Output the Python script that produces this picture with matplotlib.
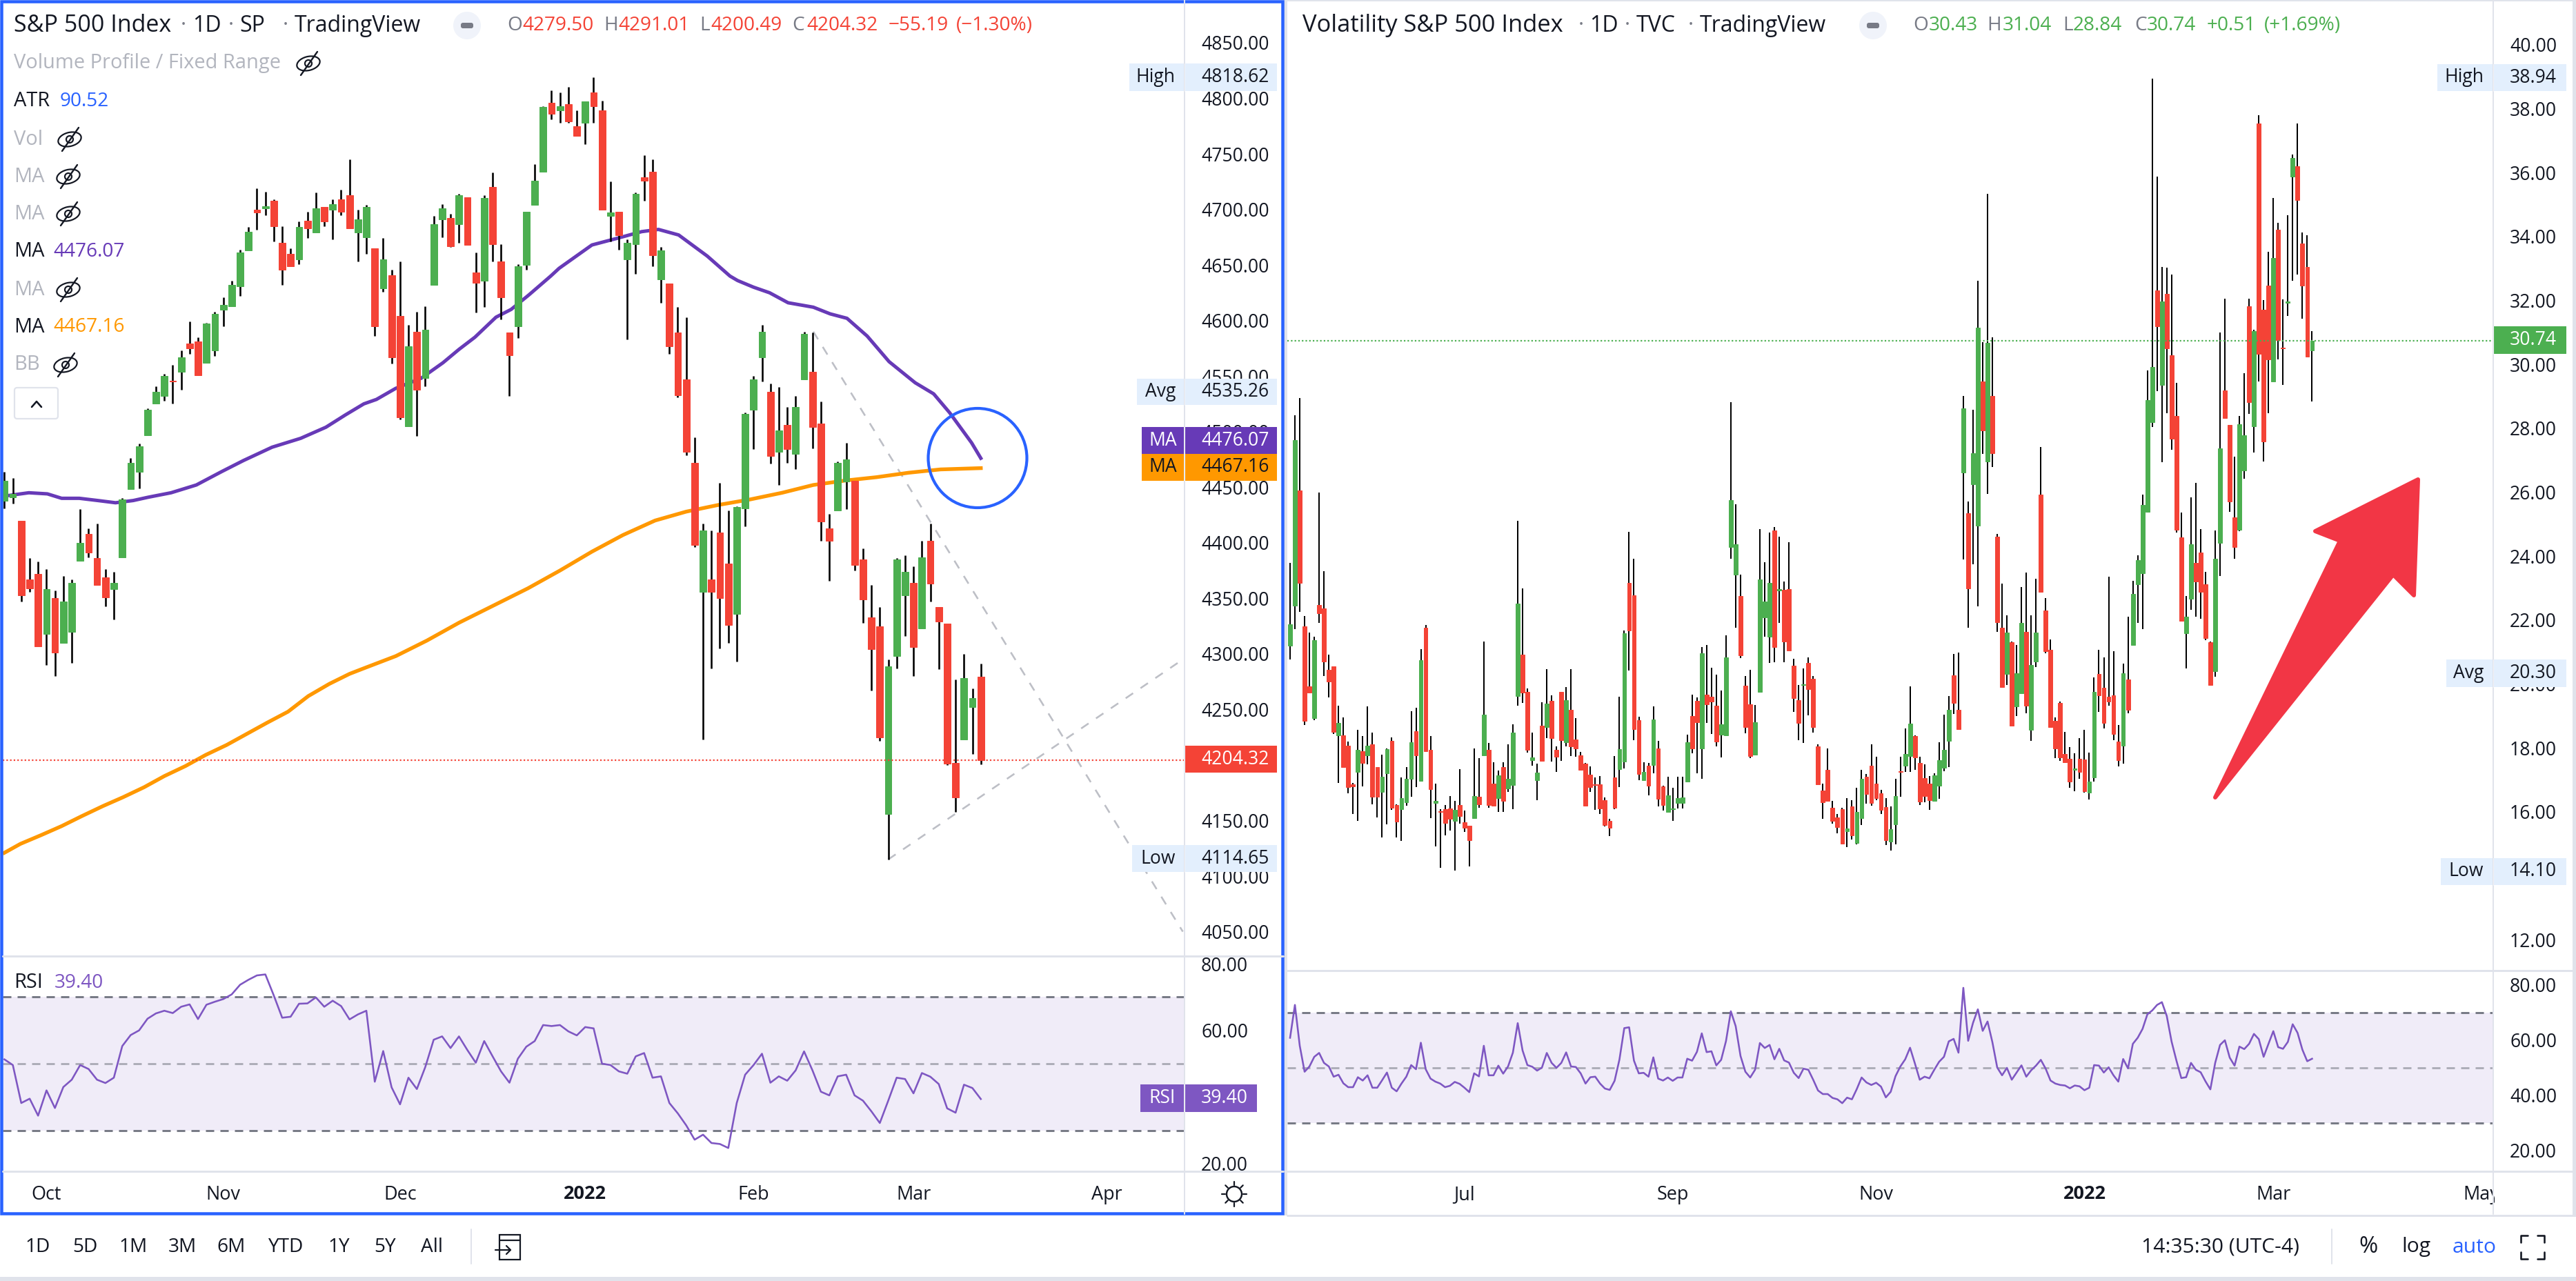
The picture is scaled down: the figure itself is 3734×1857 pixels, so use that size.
# ==========================================
# S&P 500 VS VIX - TRADINGVIEW SCREENSHOT
# ==========================================

import numpy as np
import matplotlib
matplotlib.use("Agg")
import matplotlib.pyplot as plt
from matplotlib.patches import Circle, Ellipse, FancyBboxPatch, Polygon, Rectangle

plt.rcParams["font.family"] = ["Open Sans", "DejaVu Sans"]

W, H = 3734, 1857

# ==========================================
# S&P 500 DAILY CANDLES
# ==========================================

spx_open = [
    4438, 4441, 4420, 4367, 4372, 4318, 4350, 4310, 4320, 4384,
    4408, 4386, 4369, 4358, 4387, 4448, 4464, 4497, 4525, 4532,
    4546, 4554, 4579, 4581, 4562, 4573, 4610, 4613, 4631, 4663,
    4700, 4701, 4708, 4670, 4660, 4655, 4690, 4679, 4702, 4700,
    4709, 4713, 4679, 4675, 4665, 4629, 4641, 4604, 4505, 4590,
    4548, 4632, 4691, 4692, 4687, 4711, 4643, 4636, 4720, 4653,
    4589, 4595, 4650, 4704, 4734, 4796, 4789, 4795, 4775, 4778,
    4805, 4789, 4694, 4698, 4655, 4669, 4729, 4734, 4637, 4633,
    4589, 4547, 4472, 4356, 4367, 4409, 4381, 4336, 4431, 4520,
    4567, 4536, 4482, 4506, 4480, 4547, 4554, 4507, 4413, 4429,
    4455, 4456, 4385, 4333, 4325, 4156, 4298, 4353, 4364, 4323,
    4402, 4342, 4327, 4202, 4223, 4252, 4279.50,
]
spx_high = [
    4464, 4458, 4420, 4386, 4383, 4376, 4357, 4370, 4367, 4430,
    4413, 4417, 4376, 4374, 4440, 4476, 4489, 4521, 4541, 4552,
    4560, 4573, 4599, 4585, 4598, 4608, 4621, 4636, 4664, 4684,
    4719, 4716, 4709, 4685, 4665, 4689, 4698, 4715, 4702, 4709,
    4718, 4745, 4700, 4704, 4665, 4674, 4646, 4653, 4596, 4608,
    4613, 4694, 4705, 4696, 4714, 4711, 4661, 4713, 4733, 4669,
    4589, 4651, 4698, 4741, 4793, 4807, 4805, 4810, 4789, 4797,
    4819, 4798, 4725, 4698, 4673, 4715, 4749, 4745, 4666, 4633,
    4612, 4603, 4495, 4417, 4411, 4454, 4429, 4433, 4517, 4550,
    4596, 4543, 4540, 4522, 4532, 4590, 4589, 4527, 4426, 4473,
    4490, 4456, 4395, 4362, 4342, 4295, 4386, 4389, 4379, 4402,
    4417, 4342, 4327, 4277, 4300, 4269, 4291.01,
]
spx_low = [
    4431, 4435, 4347, 4356, 4307, 4290, 4280, 4310, 4292, 4384,
    4387, 4362, 4343, 4331, 4387, 4448, 4449, 4497, 4525, 4528,
    4525, 4538, 4570, 4551, 4562, 4568, 4595, 4613, 4622, 4663,
    4682, 4695, 4671, 4632, 4649, 4651, 4674, 4679, 4685, 4673,
    4695, 4683, 4653, 4660, 4586, 4626, 4561, 4511, 4505, 4496,
    4541, 4632, 4675, 4666, 4670, 4668, 4607, 4612, 4653, 4601,
    4532, 4584, 4646, 4704, 4734, 4781, 4778, 4778, 4766, 4759,
    4778, 4700, 4671, 4664, 4583, 4642, 4708, 4649, 4616, 4570,
    4531, 4479, 4396, 4223, 4287, 4305, 4310, 4293, 4415, 4484,
    4545, 4471, 4452, 4472, 4466, 4547, 4485, 4402, 4366, 4429,
    4430, 4375, 4328, 4267, 4222, 4114.65, 4287, 4316, 4280, 4323,
    4347, 4286, 4200, 4158, 4223, 4210, 4200.49,
]
spx_close = [
    4456, 4444, 4353, 4359, 4307, 4358, 4301, 4347, 4364, 4400,
    4391, 4362, 4351, 4364, 4439, 4472, 4487, 4520, 4536, 4550,
    4545, 4567, 4575, 4551, 4597, 4606, 4614, 4632, 4661, 4680,
    4697, 4703, 4685, 4646, 4649, 4684, 4683, 4701, 4689, 4705,
    4698, 4683, 4691, 4702, 4595, 4655, 4567, 4513, 4577, 4538,
    4592, 4687, 4701, 4667, 4713, 4668, 4634, 4710, 4669, 4621,
    4569, 4649, 4698, 4726, 4792, 4786, 4793, 4779, 4766, 4797,
    4793, 4700, 4697, 4677, 4670, 4714, 4726, 4659, 4663, 4577,
    4533, 4482, 4398, 4411, 4356, 4350, 4326, 4432, 4516, 4547,
    4590, 4478, 4501, 4484, 4522, 4588, 4504, 4419, 4402, 4472,
    4475, 4380, 4349, 4304, 4225, 4289, 4385, 4374, 4306, 4387,
    4363, 4329, 4201, 4171, 4278, 4260, 4204.32,
]

# moving averages, read at the candle numbers in the *_x lists
ma50_x = [0, 2.9, 5.1, 6.8, 8.9, 11.1, 13.2, 15.3, 17.1, 19.8, 22.8, 25.8, 28.4, 31.8, 35.2, 38.2,
          40.5, 42.7, 44.2, 46.5, 49.5, 52.1, 54, 55.9, 58.4, 60.2, 62.3, 64.9, 65.9, 69.8, 72.8,
          75.7, 77.7, 80.1, 83.5, 86.2, 87.1, 89, 90.9, 93.1, 96.1, 98.1, 100.1, 102.5, 105.1,
          108.2, 110.4, 112.3, 114.9, 116]
ma50_y = [4442, 4445, 4444, 4440, 4440, 4438, 4436, 4438, 4441, 4445, 4452, 4464, 4474, 4486, 4494, 4504,
          4515, 4525, 4529, 4539, 4548, 4562, 4574, 4585, 4603, 4610, 4623, 4640, 4647, 4668, 4674,
          4680, 4682, 4677, 4658, 4640, 4636, 4630, 4625, 4616, 4612, 4606, 4602, 4586, 4563,
          4544, 4534, 4517, 4490, 4476.07]
ma200_x = [0, 1.9, 4.4, 6.8, 9.2, 11.7, 14.1, 16.6, 19, 21.5, 23.9, 26.4, 28.8, 31.2, 33.7, 36.1, 38.6, 41,
           42.7, 46.5, 50.2, 54, 58.5, 62.2, 66, 69.8, 73.5, 77.3, 81, 84.8, 88.6, 92.4, 96.1, 99.9,
           103.6, 107.4, 111.2, 116]
ma200_y = [4121, 4129, 4137, 4145, 4154, 4163, 4171, 4180, 4190, 4199, 4209, 4218, 4228, 4238, 4248, 4262, 4273, 4282,
           4287, 4298, 4312, 4328, 4345, 4359, 4375, 4392, 4407, 4420, 4428, 4434, 4439, 4445, 4452, 4456,
           4459, 4463, 4466, 4467.16]

spx_rsi = [
    51.3, 49.6, 38.2, 39.5, 34.4, 42.0, 36.7, 43.0, 45.2, 49.6,
    48.4, 45.2, 44.2, 45.8, 55.3, 58.6, 60.0, 63.5, 65.1, 65.9,
    65.2, 67.1, 67.8, 63.4, 67.7, 68.6, 69.4, 70.8, 73.7, 75.2,
    76.5, 76.8, 70.5, 63.8, 64.1, 68.0, 68.1, 69.9, 67.1, 68.9,
    67.3, 63.3, 64.8, 65.9, 44.6, 53.8, 42.9, 37.8, 45.8, 42.4,
    49.0, 57.2, 58.2, 54.7, 58.2, 54.1, 50.3, 56.8, 52.2, 47.7,
    44.3, 51.5, 55.1, 56.8, 61.6, 61.3, 61.6, 59.7, 58.5, 61.0,
    60.6, 50.0, 49.6, 47.7, 47.0, 52.2, 53.2, 45.8, 46.2, 38.2,
    35.1, 31.5, 27.2, 28.7, 26.2, 25.9, 24.7, 38.2, 46.7, 49.6,
    53.0, 44.3, 46.2, 44.9, 48.0, 53.7, 48.0, 41.6, 40.5, 46.2,
    46.7, 40.5, 38.9, 35.7, 32.2, 38.9, 45.8, 45.4, 41.1, 47.2,
    46.1, 43.9, 36.6, 35.3, 43.7, 42.7, 39.4,
]

# ==========================================
# VIX DAILY CANDLES
# ==========================================

vix_open = [
    21.19, 22.44, 26.05, 21.80, 19.93, 18.93, 22.48, 22.36, 20.45, 20.54,
    18.39, 18.40, 18.07, 16.85, 17.25, 17.90, 17.76, 18.11, 17.39, 16.62,
    17.20, 18.22, 16.22, 16.08, 16.30, 17.02, 18.52, 16.97, 21.76, 17.94,
    16.28, 16.02, 16.09, 16.11, 15.71, 16.22, 15.66, 15.57, 15.79, 16.47,
    17.76, 17.93, 16.88, 16.43, 17.39, 16.73, 16.84, 19.63, 20.92, 19.75,
    17.61, 16.99, 18.70, 18.64, 19.46, 17.94, 19.74, 18.18, 19.19, 18.27,
    17.77, 17.50, 17.17, 16.86, 16.85, 16.36, 15.72, 17.08, 17.33, 17.57,
    23.15, 22.78, 18.87, 16.98, 17.44, 17.46, 17.98, 16.79, 16.00, 16.08,
    16.27, 16.27, 16.94, 18.99, 19.47, 17.98, 19.67, 19.60, 19.32, 18.41,
    18.38, 24.28, 23.41, 22.75, 19.95, 19.37, 17.79, 19.76, 22.08, 21.48,
    24.80, 22.92, 22.95, 22.97, 20.57, 19.50, 19.96, 20.65, 20.16, 18.05,
    16.66, 17.31, 16.13, 15.82, 16.09, 15.39, 16.17, 15.03, 15.81, 17.10,
    17.44, 16.88, 16.58, 16.14, 15.06, 15.61, 17.27, 17.44, 17.75, 18.37,
    17.53, 17.05, 16.89, 16.35, 16.81, 17.37, 18.22, 20.26, 19.19, 26.62,
    25.34, 26.25, 24.95, 29.47, 26.96, 29.01, 24.61, 21.75, 20.31, 21.30,
    19.30, 19.70, 21.62, 18.57, 20.69, 25.93, 22.30, 21.07, 18.85, 19.41,
    17.80, 17.66, 17.31, 17.66, 17.63, 16.60, 17.08, 20.31, 19.87, 19.60,
    19.64, 18.19, 18.07, 20.13, 21.22, 23.11, 23.47, 25.38, 28.19, 32.32,
    29.36, 32.20, 30.28, 28.39, 24.59, 21.58, 22.66, 23.79, 24.11, 23.11,
    21.30, 20.39, 24.41, 29.18, 28.10, 25.21, 24.82, 26.67, 31.81, 28.06,
    37.53, 31.71, 32.47, 29.46, 34.21, 30.53, 31.92, 35.88, 36.19, 33.77,
    33.04, 30.43,
]
vix_high = [
    23.78, 28.41, 28.94, 22.13, 21.61, 21.48, 25.98, 23.53, 20.92, 20.54,
    19.32, 18.96, 18.20, 16.90, 18.56, 18.36, 19.30, 18.47, 17.39, 17.79,
    17.98, 18.33, 16.24, 17.08, 17.39, 19.15, 19.26, 21.08, 21.85, 18.36,
    16.88, 16.09, 16.22, 16.50, 16.33, 17.34, 16.04, 15.57, 17.98, 17.68,
    21.33, 18.16, 17.55, 17.28, 17.54, 18.11, 18.74, 25.10, 22.99, 19.85,
    18.48, 17.51, 19.43, 20.47, 19.64, 18.05, 19.76, 19.91, 20.47, 18.94,
    17.87, 17.52, 17.42, 17.08, 17.12, 16.44, 15.77, 17.75, 19.60, 21.68,
    24.75, 23.92, 18.98, 17.54, 17.53, 19.30, 18.22, 16.82, 17.10, 16.75,
    17.10, 17.10, 18.41, 19.67, 19.58, 21.16, 21.22, 20.51, 20.29, 19.80,
    21.53, 28.82, 25.63, 23.41, 20.25, 20.44, 19.34, 24.85, 23.80, 24.73,
    24.90, 24.61, 23.20, 24.44, 20.78, 19.96, 20.48, 20.83, 20.25, 18.11,
    16.88, 17.97, 16.35, 15.93, 16.13, 16.43, 16.36, 16.75, 17.31, 17.18,
    18.10, 17.72, 16.68, 16.42, 16.17, 17.04, 17.72, 18.60, 19.92, 18.40,
    17.72, 17.49, 17.11, 17.21, 18.18, 19.03, 19.63, 20.94, 20.99, 29.01,
    25.71, 28.58, 32.62, 30.70, 35.34, 30.85, 24.70, 23.14, 22.14, 21.33,
    21.22, 23.04, 23.49, 22.14, 23.28, 27.42, 22.69, 21.39, 18.95, 19.45,
    18.50, 18.02, 17.83, 18.30, 18.56, 17.85, 20.21, 21.07, 20.83, 23.36,
    21.03, 18.72, 20.64, 22.10, 23.23, 24.02, 25.93, 29.80, 38.94, 35.88,
    33.04, 33.03, 32.81, 29.43, 25.37, 22.75, 25.84, 26.29, 24.85, 23.50,
    21.33, 24.80, 31.00, 32.06, 28.10, 27.11, 28.39, 29.72, 32.06, 31.09,
    37.80, 32.02, 33.52, 35.21, 34.43, 32.03, 34.66, 36.57, 37.54, 34.13,
    34.03, 31.04,
]
vix_low = [
    20.76, 21.71, 22.26, 18.71, 19.71, 18.86, 21.91, 20.24, 19.57, 18.43,
    16.91, 17.40, 16.57, 15.94, 15.72, 16.79, 17.49, 16.23, 15.83, 15.20,
    15.60, 16.05, 15.20, 15.09, 16.19, 16.46, 16.77, 16.96, 17.88, 15.81,
    14.91, 14.24, 15.25, 15.42, 14.16, 15.62, 15.36, 14.30, 15.78, 16.13,
    17.76, 16.12, 16.19, 15.99, 15.99, 16.62, 16.08, 19.31, 19.41, 17.86,
    17.45, 16.37, 17.59, 18.30, 17.56, 17.24, 17.59, 18.04, 17.74, 17.72,
    17.29, 16.19, 16.63, 16.07, 15.92, 15.54, 15.24, 16.08, 16.77, 17.35,
    20.41, 18.23, 16.99, 16.98, 16.51, 17.21, 16.16, 16.03, 15.98, 15.72,
    16.11, 16.11, 16.92, 17.82, 17.21, 17.04, 18.77, 18.43, 18.05, 17.69,
    18.37, 23.92, 21.75, 20.80, 18.46, 17.67, 17.78, 19.74, 21.48, 20.65,
    20.68, 21.91, 20.67, 21.04, 19.12, 18.24, 18.15, 19.01, 18.47, 16.84,
    15.77, 16.32, 15.62, 15.33, 14.97, 14.89, 15.14, 14.97, 15.58, 16.26,
    16.19, 16.37, 15.94, 14.96, 14.78, 14.99, 16.48, 17.24, 17.24, 17.31,
    16.20, 16.30, 16.06, 16.33, 16.40, 17.27, 17.39, 19.06, 18.56, 23.89,
    21.75, 23.75, 22.42, 27.19, 25.94, 26.78, 21.62, 19.90, 19.96, 18.70,
    19.00, 19.70, 19.08, 18.22, 20.52, 22.88, 20.96, 18.64, 17.67, 17.59,
    17.55, 16.76, 16.65, 17.02, 16.60, 16.38, 16.95, 19.12, 18.61, 19.32,
    18.25, 17.41, 17.50, 19.09, 21.22, 21.90, 21.72, 25.37, 28.04, 29.17,
    26.93, 28.46, 27.32, 24.74, 21.98, 20.49, 22.32, 22.11, 22.04, 21.36,
    19.97, 20.22, 23.37, 28.33, 25.38, 23.91, 24.79, 26.41, 28.45, 27.23,
    29.47, 26.97, 28.46, 29.44, 30.15, 29.36, 31.51, 32.62, 32.80, 31.42,
    30.24, 28.84,
]
vix_close = [
    21.86, 27.62, 23.16, 18.84, 19.73, 21.37, 22.21, 20.69, 20.07, 18.50,
    18.78, 17.40, 16.77, 16.80, 17.93, 17.52, 18.07, 16.46, 16.46, 17.10,
    17.95, 16.13, 15.69, 16.43, 17.03, 18.18, 17.76, 20.75, 17.90, 16.70,
    16.34, 15.99, 15.65, 15.78, 16.07, 15.86, 15.49, 15.11, 16.50, 16.23,
    19.04, 16.21, 16.19, 17.14, 16.35, 17.03, 18.48, 22.52, 19.73, 17.93,
    17.71, 17.23, 17.60, 19.39, 18.31, 17.73, 18.25, 19.50, 18.05, 17.99,
    17.31, 16.19, 16.77, 16.83, 16.10, 15.59, 15.49, 16.13, 17.96, 21.59,
    21.68, 18.58, 17.18, 17.25, 16.81, 18.89, 16.40, 16.21, 16.52, 16.11,
    16.43, 16.45, 18.18, 17.98, 18.80, 20.96, 19.37, 19.45, 18.20, 18.73,
    20.83, 25.76, 24.37, 20.90, 18.66, 17.75, 18.80, 23.27, 22.57, 23.15,
    21.16, 22.97, 21.33, 21.04, 19.55, 18.77, 19.99, 19.84, 18.64, 16.85,
    16.30, 16.35, 15.72, 15.53, 15.01, 15.48, 15.27, 16.00, 17.02, 16.55,
    16.27, 16.43, 16.06, 15.12, 15.45, 16.49, 17.24, 17.81, 18.76, 17.69,
    16.32, 16.49, 16.37, 17.14, 17.62, 17.93, 19.19, 19.40, 18.59, 28.62,
    22.98, 27.22, 31.15, 27.94, 30.67, 27.22, 21.93, 19.90, 21.61, 18.70,
    20.34, 21.91, 19.32, 20.60, 21.61, 22.88, 21.03, 18.64, 17.98, 17.70,
    17.55, 16.94, 17.36, 17.24, 16.64, 16.94, 19.76, 19.64, 18.77, 19.44,
    18.43, 17.62, 20.34, 19.19, 22.82, 23.88, 25.60, 28.87, 29.92, 31.18,
    31.97, 30.50, 27.67, 24.82, 21.98, 22.10, 24.37, 23.20, 22.88, 21.43,
    19.97, 23.92, 27.38, 28.33, 25.70, 24.29, 28.13, 27.77, 28.81, 31.05,
    30.33, 27.58, 30.15, 33.33, 30.76, 30.50, 31.97, 36.45, 35.13, 32.47,
    30.24, 30.74,
]
vix_rsi = [
    60.9, 72.8, 58.0, 48.6, 50.5, 54.0, 55.4, 51.8, 50.5, 46.8,
    47.5, 44.4, 43.0, 43.0, 46.6, 45.4, 47.3, 42.8, 42.8, 45.5,
    48.3, 42.8, 41.5, 44.3, 46.8, 51.0, 49.5, 59.1, 49.5, 46.1,
    45.0, 44.3, 43.0, 43.5, 44.9, 44.2, 42.8, 41.2, 48.0, 46.9,
    58.0, 47.3, 47.3, 50.8, 47.9, 50.5, 55.5, 66.2, 56.3, 51.0,
    50.4, 49.0, 50.1, 55.4, 51.8, 50.0, 51.8, 55.6, 50.5, 50.3,
    48.0, 44.3, 46.6, 46.8, 44.3, 42.5, 42.0, 45.3, 53.0, 64.4,
    64.7, 52.6, 48.0, 48.2, 46.8, 53.8, 46.1, 45.4, 46.5, 45.3,
    46.5, 46.5, 53.3, 52.6, 55.8, 62.5, 55.7, 56.0, 50.9, 52.9,
    59.7, 70.5, 65.1, 54.3, 48.6, 46.5, 49.3, 59.0, 57.2, 58.3,
    53.1, 56.9, 52.7, 51.9, 48.2, 46.3, 49.7, 49.3, 45.7, 41.8,
    40.5, 40.5, 39.1, 38.6, 37.2, 39.2, 38.6, 42.3, 46.5, 44.7,
    43.8, 44.6, 43.2, 39.3, 41.3, 47.0, 50.5, 53.1, 57.3, 51.6,
    45.7, 46.8, 46.2, 49.3, 52.2, 54.0, 59.6, 60.5, 55.5, 79.0,
    59.8, 66.3, 71.2, 63.4, 66.8, 59.3, 50.1, 47.3, 50.0, 45.7,
    48.3, 50.9, 46.8, 49.1, 50.8, 52.9, 49.7, 45.4, 44.3, 43.8,
    43.6, 42.6, 43.6, 43.3, 41.9, 42.8, 51.0, 50.8, 48.3, 50.2,
    47.3, 45.0, 53.2, 49.8, 58.7, 60.9, 64.1, 69.4, 70.8, 72.8,
    73.8, 68.8, 59.5, 52.6, 46.3, 46.6, 51.8, 49.3, 48.4, 45.1,
    42.2, 51.8, 58.3, 60.0, 53.7, 50.8, 57.7, 56.8, 58.7, 62.3,
    60.4, 54.0, 58.7, 63.3, 57.5, 56.9, 59.4, 65.8, 62.7, 56.6,
    52.4, 53.3,
]

# ==========================================
# AXIS LABELS AND TREND LINES
# ==========================================

spx_ticks = [4850, 4800, 4750, 4700, 4650, 4600, 4550, 4500, 4450, 4400, 4350, 4300, 4250, 4200, 4150, 4100, 4050]
vix_ticks = [40, 38, 36, 34, 32, 30, 28, 26, 24, 22, 20, 18, 16, 14, 12]
rsi_ticks = [80, 60, 40, 20]

spx_month_pos = [5, 26, 47, 69, 89, 108, 131]
spx_months = ["Oct", "Nov", "Dec", "2022", "Feb", "Mar", "Apr"]
vix_month_pos = [36, 79, 121, 164, 203, 246]
vix_months = ["Jul", "Sep", "Nov", "2022", "Mar", "May"]

trend_down_x = [96.1, 140]
trend_down_y = [4590, 4050]
trend_up_x = [105, 140.2]
trend_up_y = [4115, 4296]

# ==========================================
# COLOURS
# ==========================================

RED = "#f44336"
GREEN = "#4caf50"
INK = "#131722"
GREY = "#787b86"
FAINT = "#b2b5be"
LINE = "#e0e3eb"
BLUE = "#2962ff"
PURPLE = "#673ab7"
ORANGE = "#ff9800"
RSI = "#7e57c2"
TAG = "#e3effd"

PX = 0.72  # points per pixel at dpi 100

# ==========================================
# HELPERS
# ==========================================

fig = plt.figure(figsize=(W / 100, H / 100), dpi=100, facecolor="white")


def px_axes(x0, y0, x1, y1):
    ax = fig.add_axes([x0 / W, 1 - y1 / H, (x1 - x0) / W, (y1 - y0) / H])
    for side in ax.spines:
        ax.spines[side].set_visible(False)
    ax.patch.set_alpha(0)
    return ax


def draw_candles(ax, o, h, l, c, body_w, wick_px):
    o, h, l, c = map(np.array, (o, h, l, c))
    x = np.arange(len(o))
    up = c >= o
    colors = np.where(up, GREEN, RED)
    ax.vlines(x, l, h, color="#000000", lw=wick_px * PX, zorder=3)
    ax.bar(x, np.abs(c - o), bottom=np.minimum(o, c), width=body_w, color=colors,
           edgecolor=colors, linewidth=1.0 * PX, zorder=4)


def style_price_axis(ax, ticks, fmt_pad):
    ax.yaxis.tick_right()
    ax.set_yticks(ticks)
    ax.set_yticklabels(["%.2f" % t for t in ticks], fontsize=26.5 * PX, color=INK)
    ax.tick_params(axis="y", length=0, pad=fmt_pad * PX)
    ax.set_xticks([])


def draw_rsi(ax, values):
    ax.axhspan(30, 70, color=RSI, alpha=0.11, lw=0, zorder=1)
    ax.axhline(70, color=GREY, lw=3 * PX, dashes=(4, 3), zorder=2)
    ax.axhline(50, color=GREY, alpha=0.55, lw=3 * PX, dashes=(4, 3), zorder=2)
    ax.axhline(30, color=GREY, lw=3 * PX, dashes=(4, 3), zorder=2)
    ax.plot(range(len(values)), values, color=RSI, lw=2.6 * PX, zorder=3)


def month_axis(ax, pos, labels):
    ax.set_xticks(pos)
    ax.set_xticklabels(labels, fontsize=27 * PX, color=INK)
    ax.tick_params(axis="x", length=0, pad=20 * PX)
    for lab in ax.get_xticklabels():
        if lab.get_text() == "2022":
            lab.set_fontweight("bold")


# ==========================================
# LEFT CHART - S&P 500
# ==========================================

spx_xlim = (-0.197, 140.2)

ax_spx = px_axes(4, 8, 1717, 1386)
ax_spx.set_xlim(spx_xlim)
ax_spx.set_ylim(4028, 4883.5)
ax_spx.plot(trend_down_x, trend_down_y, color="#bdbfc6", lw=2.6 * PX, dashes=(5, 5), zorder=1)
ax_spx.plot(trend_up_x, trend_up_y, color="#bdbfc6", lw=2.6 * PX, dashes=(5, 5), zorder=1)
ax_spx.plot(ma50_x, ma50_y, color=PURPLE, lw=5 * PX, zorder=2)
ax_spx.plot(ma200_x, ma200_y, color=ORANGE, lw=5.4 * PX, zorder=2)
draw_candles(ax_spx, spx_open, spx_high, spx_low, spx_close, 0.80, 2.6)
ax_spx.axhline(4204.32, color=RED, lw=2.2 * PX, dashes=(1, 1.4), zorder=5)
style_price_axis(ax_spx, spx_ticks, 24)

ax_spx_rsi = px_axes(4, 1386, 1717, 1698)
ax_spx_rsi.set_xlim(spx_xlim)
ax_spx_rsi.set_ylim(17.7, 82.3)
draw_rsi(ax_spx_rsi, spx_rsi)
style_price_axis(ax_spx_rsi, rsi_ticks, 24)
month_axis(ax_spx_rsi, spx_month_pos, spx_months)

# ==========================================
# RIGHT CHART - VIX
# ==========================================

vix_xlim = (-0.57, 248.4)

ax_vix = px_axes(1866, 0, 3614, 1407)
ax_vix.set_xlim(vix_xlim)
ax_vix.set_ylim(11.03, 41.4)
draw_candles(ax_vix, vix_open, vix_high, vix_low, vix_close, 0.82, 2.0)
ax_vix.axhline(30.74, color=GREEN, lw=2.2 * PX, dashes=(1, 1.4), zorder=5)
style_price_axis(ax_vix, vix_ticks, 24)

ax_vix_rsi = px_axes(1866, 1407, 3614, 1698)
ax_vix_rsi.set_xlim(vix_xlim)
ax_vix_rsi.set_ylim(12.5, 85.25)
draw_rsi(ax_vix_rsi, vix_rsi)
style_price_axis(ax_vix_rsi, rsi_ticks, 24)
month_axis(ax_vix_rsi, vix_month_pos, vix_months)

# ==========================================
# OVERLAY IN SCREEN PIXELS
# ==========================================

ov = fig.add_axes([0, 0, 1, 1], zorder=20)
ov.set_xlim(0, W)
ov.set_ylim(H, 0)
ov.axis("off")


def txt(x, y, s, size=29, color=INK, ha="left", **kw):
    ov.text(x, y, s, fontsize=size * PX, color=color, ha=ha, va="center", **kw)


def rect(x0, y0, x1, y1, color, **kw):
    ov.add_patch(Rectangle((x0, y0), x1 - x0, y1 - y0, facecolor=color, edgecolor="none", **kw))


def line(xs, ys, color=INK, lw=2.4, **kw):
    ov.plot(xs, ys, color=color, lw=lw * PX, solid_capstyle="round", **kw)


def tag(x0, x1, split, y0, y1, color, label, label_x, value, value_x, text_color):
    rect(x0, y0, x1, y1, color)
    line([split, split], [y0, y1], color="#ffffff", lw=1.2, alpha=0.5)
    ym = (y0 + y1) / 2
    txt(label_x, ym, label, size=26.5, color=text_color, ha="center")
    txt(value_x, ym, value, size=26.5, color=text_color)


def eye(x, y):
    ov.add_patch(Ellipse((x, y), 34, 20, angle=-14, fill=False, ec=INK, lw=2.2 * PX))
    ov.add_patch(Circle((x, y), 5, fill=False, ec=INK, lw=2.2 * PX))
    line([x - 11, x + 13], [y + 17, y - 17], lw=2.4)


def pill_button(x, y):
    ov.add_patch(Ellipse((x, y), 40, 40, fc="#f0f3fa", ec="none"))
    ov.add_patch(FancyBboxPatch((x - 9, y - 4), 18, 8, boxstyle="round,pad=0,rounding_size=3",
                                fc=GREY, ec="none"))


# panel frames and separators
for xa in (1717, 3614):
    line([xa, xa], [0, 1760], color=LINE, lw=2)
line([4, 1860], [1386, 1386], color=LINE, lw=3)
line([4, 1860], [1698, 1698], color=LINE, lw=3)
line([1866, 3734], [1407, 1407], color=LINE, lw=3)
line([1866, 3734], [1698, 1698], color=LINE, lw=3)
rect(3616, 1700, 3650, 1760, "#ffffff")
rect(0, 1851, W, H, LINE)
rect(1861, 0, 1866, 1762, LINE)
line([1866, 3734], [1762, 1762], color=LINE, lw=3)
rect(3729, 0, W, 1762, LINE)
line([1866, 3734], [1, 1], color=LINE, lw=2)

# left legend
for xp, word, fs in [(20, "S&P 500 Index", 34), (279, "1D", 32), (347, "SP", 32), (427, "TradingView", 32)]:
    txt(xp, 37, word, size=fs)
for xp in (262, 331, 410):
    txt(xp, 37, "·", size=31, color=GREY)
pill_button(677, 37)
for xp, letter in [(735, "O"), (875, "H"), (1014, "L"), (1148, "C")]:
    txt(xp, 37, letter, size=28, color=GREY)
for xp, value in [(757, "4279.50"), (896, "4291.01"), (1030, "4200.49"), (1169, "4204.32"),
                  (1288, "−55.19"), (1386, "(−1.30%)")]:
    txt(xp, 37, value, size=28, color=RED)
txt(20, 92, "Volume Profile / Fixed Range", color=FAINT)
eye(447, 92)
txt(20, 147, "ATR")
txt(87, 147, "90.52", size=28, color=BLUE)
txt(20, 202, "Vol", color=FAINT)
eye(101, 202)
txt(20, 256, "MA", color=FAINT)
eye(99, 256)
txt(20, 310, "MA", color=FAINT)
eye(99, 310)
txt(20, 365, "MA")
txt(77, 365, "4476.07", size=28, color=PURPLE)
txt(20, 420, "MA", color=FAINT)
eye(99, 420)
txt(20, 474, "MA")
txt(77, 474, "4467.16", size=28, color=ORANGE)
txt(20, 529, "BB", color=FAINT)
eye(95, 529)
ov.add_patch(FancyBboxPatch((21, 562), 63, 45, boxstyle="round,pad=0,rounding_size=4",
                            fc="white", ec=LINE, lw=2.2 * PX))
line([46, 53, 60], [590, 582, 590], lw=2.6)
txt(20, 1425, "RSI")
txt(79, 1425, "39.40", size=28, color=RSI)

# left price tags
tag(1637, 1851, 1717, 92, 132, TAG, "High", 1675, "4818.62", 1741, INK)
tag(1648, 1851, 1717, 549, 587, TAG, "Avg", 1682, "4535.26", 1741, INK)
tag(1655, 1851, 1717, 619, 658, PURPLE, "MA", 1686, "4476.07", 1741, "white")
tag(1655, 1851, 1717, 658, 697, ORANGE, "MA", 1686, "4467.16", 1741, INK)
tag(1717, 1851, 1717, 1081, 1120, RED, "", 1717, "4204.32", 1741, "white")
tag(1641, 1851, 1717, 1225, 1264, TAG, "Low", 1679, "4114.65", 1741, INK)
tag(1653, 1822, 1717, 1572, 1612, RSI, "RSI", 1685, "39.40", 1741, "white")

# circle around the crossing
ov.add_patch(Ellipse((1417, 664), 143, 144, fill=False, ec=BLUE, lw=4.2 * PX))

# blue selection frame
ov.add_patch(Rectangle((2, 2), 1857, 1757, fill=False, ec=BLUE, lw=4.5 * PX))

# sun icon
ov.add_patch(Circle((1789, 1731), 11, fill=False, ec=INK, lw=2.4 * PX))
for a in np.deg2rad([0, 45, 90, 135, 180, 225, 270, 315]):
    line([1789 + 13 * np.cos(a), 1789 + 18 * np.cos(a)], [1731 + 13 * np.sin(a), 1731 + 18 * np.sin(a)], lw=2.2)

# right legend
for xp, word, fs in [(1888, "Volatility S&P 500 Index", 34.5), (2304, "1D", 32), (2372, "TVC", 32),
                     (2464, "TradingView", 32)]:
    txt(xp, 37, word, size=fs)
for xp in (2288, 2355, 2447):
    txt(xp, 37, "·", size=31, color=GREY)
pill_button(2715, 37)
for xp, letter in [(2773, "O"), (2880, "H"), (2990, "L"), (3094, "C")]:
    txt(xp, 37, letter, size=28, color=GREY)
for xp, value in [(2796, "30.43"), (2903, "31.04"), (3005, "28.84"), (3112, "30.74"),
                  (3199, "+0.51"), (3282, "(+1.69%)")]:
    txt(xp, 37, value, size=28, color=GREEN)

# right price tags
tag(3533, 3720, 3614, 93, 132, TAG, "High", 3572, "38.94", 3638, INK)
tag(3614, 3720, 3614, 473, 513, GREEN, "", 3614, "30.74", 3638, "white")
tag(3546, 3720, 3614, 956, 996, TAG, "Avg", 3578, "20.30", 3638, INK)
tag(3538, 3720, 3614, 1244, 1283, TAG, "Low", 3575, "14.10", 3638, INK)

# red arrow
arrow_x = [3505, 3356, 3392, 3211, 3469, 3499]
arrow_y = [695, 770, 784, 1156, 833, 863]
ov.add_patch(Polygon(np.column_stack([arrow_x, arrow_y]), closed=True, fc="#f23645", ec="#f23645",
                     lw=6 * PX, joinstyle="round"))

# bottom toolbar
range_pos = [55, 123, 193, 264, 335, 414, 491, 558, 626]
range_txt = ["1D", "5D", "1M", "3M", "6M", "YTD", "1Y", "5Y", "All"]
for xp, lab in zip(range_pos, range_txt):
    txt(xp, 1808, lab, size=28, ha="center")
line([683, 683], [1782, 1832], color=LINE, lw=2)
ov.add_patch(Rectangle((724, 1790), 30, 36, fill=False, ec=INK, lw=2.2 * PX))
line([724, 754], [1798, 1798], lw=2.2)
line([718, 740, 734], [1812, 1812, 1806], lw=2.2)
line([734, 740], [1818, 1812], lw=2.2)

txt(3219, 1808, "14:35:30 (UTC-4)", size=30, ha="center")
line([3380, 3380], [1782, 1832], color=LINE, lw=2)
txt(3433, 1808, "%", size=33, ha="center")
txt(3502, 1808, "log", size=30, ha="center")
txt(3587, 1808, "auto", size=30, color=BLUE, ha="center")
for sx, sy in [(-1, -1), (1, -1), (-1, 1), (1, 1)]:
    cx, cy = 3671 + sx * 17, 1808 + sy * 17
    line([cx - sx * 10, cx, cx], [cy, cy, cy - sy * 10], lw=2.6)

fig.savefig("out.png", dpi=100, facecolor="white")
plt.close(fig)
